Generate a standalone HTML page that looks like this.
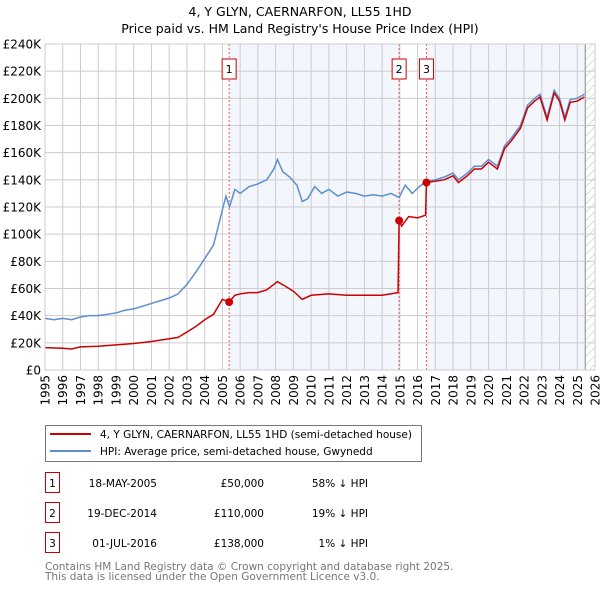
<!DOCTYPE html>
<html><head><meta charset="utf-8"><style>
body{margin:0;background:#fff;font-family:"Liberation Sans","DejaVu Sans",sans-serif;}
svg text{font-family:"DejaVu Sans","Liberation Sans",sans-serif;}
</style></head><body>
<svg id="c" width="600" height="590" xmlns="http://www.w3.org/2000/svg">
<defs><pattern id="hatch" width="6" height="6" patternUnits="userSpaceOnUse" patternTransform="rotate(45)"><line x1="0" y1="0" x2="0" y2="6" stroke="#bbb" stroke-width="1"/></pattern></defs>
<text x="300" y="16" text-anchor="middle" font-size="12.5" fill="#000">4, Y GLYN, CAERNARFON, LL55 1HD</text>
<text x="300" y="33" text-anchor="middle" font-size="12.5" fill="#000">Price paid vs. HM Land Registry's House Price Index (HPI)</text>
<g id="plot"></g>
<g>
<rect x="45.5" y="425.5" width="376" height="36" fill="#fff" stroke="#777"/>
<line x1="50" y1="434" x2="91" y2="434" stroke="#cc0000" stroke-width="2"/>
<text x="100" y="438" font-size="10.5">4, Y GLYN, CAERNARFON, LL55 1HD (semi-detached house)</text>
<line x1="50" y1="451" x2="91" y2="451" stroke="#5b8fd0" stroke-width="2"/>
<text x="100" y="455" font-size="10.5">HPI: Average price, semi-detached house, Gwynedd</text>
</g>
<g id="table" font-size="10.5"></g>
<text x="45" y="570" font-size="10.5" fill="#777">Contains HM Land Registry data © Crown copyright and database right 2025.</text>
<text x="45" y="580" font-size="10.5" fill="#777">This data is licensed under the Open Government Licence v3.0.</text>
</svg>
<script>
const hpiYears=[1995,1995.5,1996,1996.5,1997,1997.5,1998,1998.5,1999,1999.5,2000,2000.5,2001,2001.5,2002,2002.5,2003,2003.5,2004,2004.5,2005,2005.2,2005.4,2005.7,2006,2006.5,2007,2007.5,2007.9,2008.1,2008.4,2008.8,2009.2,2009.5,2009.8,2010.2,2010.6,2011,2011.5,2012,2012.5,2013,2013.5,2014,2014.5,2014.96,2015.3,2015.7,2016.1,2016.5,2017,2017.5,2018,2018.3,2018.8,2019.2,2019.6,2020,2020.5,2020.9,2021.3,2021.8,2022.2,2022.6,2022.9,2023.3,2023.7,2024,2024.3,2024.6,2025,2025.4];
const hpiValues=[38,37,38,37,39,40,40,41,42,44,45,47,49,51,53,56,63,72,82,92,118,128,120,133,130,135,137,140,148,155,146,142,136,124,126,135,130,133,128,131,130,128,129,128,130,127,136,130,135,139,140,142,145,140,145,150,150,155,150,165,171,180,195,200,203,186,206,200,186,199,200,203];
const priceYears=[1995,1996,1996.5,1997,1998,1999,2000,2001,2001.5,2002,2002.5,2003,2003.5,2004,2004.5,2005,2005.38,2005.7,2006,2006.5,2007,2007.5,2008.1,2008.5,2009,2009.5,2010,2011,2012,2013,2014,2014.9,2014.96,2015.1,2015.5,2016,2016.45,2016.5,2017,2017.5,2018,2018.3,2018.8,2019.2,2019.6,2020,2020.5,2020.9,2021.3,2021.8,2022.2,2022.6,2022.9,2023.3,2023.7,2024,2024.3,2024.6,2025,2025.4];
const priceValues=[16.5,16,15.5,17,17.5,18.5,19.5,21,22,23,24,28,32,37,41,52,50,55,56,57,57,59,65,62,58,52,55,56,55,55,55,57,110,106,113,112,114,138,139,140,143,138,143,148,148,153,148,163,169,178,193,198,201,184,204,198,184,197,198,201];
const saleYears=[2005.38,2014.96,2016.5];
const saleValues=[50,110,138];
const saleLabels=["1","2","3"];
const saleDates=["18-MAY-2005","19-DEC-2014","01-JUL-2016"];
const salePrices=["£50,000","£110,000","£138,000"];
const saleDiffs=["58% ↓ HPI","19% ↓ HPI","1% ↓ HPI"];
const yTicks=[0,20,40,60,80,100,120,140,160,180,200,220,240];
const xTicks=[1995,1996,1997,1998,1999,2000,2001,2002,2003,2004,2005,2006,2007,2008,2009,2010,2011,2012,2013,2014,2015,2016,2017,2018,2019,2020,2021,2022,2023,2024,2025,2026];
const L=45,R=595,T=44,B=370,X0=1995,X1=2026,YM=240,dataEnd=2025.45;
const x=v=>L+(v-X0)/(X1-X0)*(R-L), y=v=>B-v/YM*(B-T);
const NS="http://www.w3.org/2000/svg", g=document.getElementById('plot');
function mk(tag,at,parent){const e=document.createElementNS(NS,tag);for(const k in at)e.setAttribute(k,at[k]);(parent||g).appendChild(e);return e;}
let e;
e=mk('rect',{x:L,y:T,width:R-L,height:B-T,fill:'#fff'});


e=mk('rect',{x:x(saleYears[0]),y:T,width:x(saleYears[1])-x(saleYears[0]),height:B-T,fill:'#f3f6fd'});


e=mk('rect',{x:x(saleYears[2]),y:T,width:x(dataEnd)-x(saleYears[2]),height:B-T,fill:'#f3f6fd'});


e=mk('rect',{x:x(dataEnd),y:T,width:R-x(dataEnd),height:B-T,fill:'url(#hatch)'});


mk('line',{x1:x(dataEnd),y1:T,x2:x(dataEnd),y2:B,stroke:'#888','stroke-width':1});
yTicks.forEach(t=>{
 e=mk('line',{x1:L,y1:y(t),x2:R,y2:y(t),stroke:'#ccc','stroke-width':1});
 
 
 e=mk('text',{x:L-4,y:y(t)+4.5,'text-anchor':'end','font-size':'12',fill:'#000'});
 e.textContent=t===0?'£0':'£'+t+'K';
 
 
});
xTicks.forEach(t=>{
 e=mk('line',{x1:x(t),y1:T,x2:x(t),y2:B,stroke:'#ccc','stroke-width':1});
 
 
 e=mk('text',{x:0,y:0,'text-anchor':'end','font-size':'12',fill:'#000',transform:`translate(${x(t)+4.5},${B+5}) rotate(-90)`});
 e.textContent=t;
 
 
});
saleYears.forEach((s,i)=>{
 e=mk('line',{x1:x(s),y1:T,x2:x(s),y2:B,stroke:'#ee5555','stroke-width':1,'stroke-dasharray':'2,2'});
 
 
 e=mk('rect',{x:x(s)-7,y:59,width:14,height:20,fill:'#fff',stroke:'#cc0000'});
 
 
 e=mk('text',{x:x(s),y:73,'text-anchor':'middle','font-size':'11'});
 e.textContent=saleLabels[i];
 
 
});
e=mk('polyline',{points:hpiYears.map((v,i)=>x(v)+','+y(hpiValues[i])).join(' '),fill:'none',stroke:'#5b8fd0','stroke-width':1.5});


e=mk('polyline',{points:priceYears.map((v,i)=>x(v)+','+y(priceValues[i])).join(' '),fill:'none',stroke:'#cc0000','stroke-width':1.5});


saleYears.forEach((s,i)=>{
 e=mk('circle',{cx:x(s),cy:y(saleValues[i]),r:4,fill:'#cc0000'});
 
 
});
mk('rect',{x:L,y:T,width:R-L,height:B-T,fill:'none',stroke:'#ccc'});
const tb=document.getElementById('table');
saleYears.forEach((s,i)=>{
 const yy=487+i*30;
 e=mk('rect',{x:45.5,y:yy-14.5,width:14,height:20,fill:'#fff',stroke:'#cc0000'},tb);
 
 
 e=mk('text',{x:52.5,y:yy,'text-anchor':'middle'},tb);e.textContent=saleLabels[i];
 
 
 e=mk('text',{x:157,y:yy,'text-anchor':'end'},tb);e.textContent=saleDates[i];
 
 
 e=mk('text',{x:264,y:yy,'text-anchor':'end'},tb);e.textContent=salePrices[i];
 
 
 e=mk('text',{x:368,y:yy,'text-anchor':'end'},tb);e.textContent=saleDiffs[i];
 
 
});
</script>
</body></html>
